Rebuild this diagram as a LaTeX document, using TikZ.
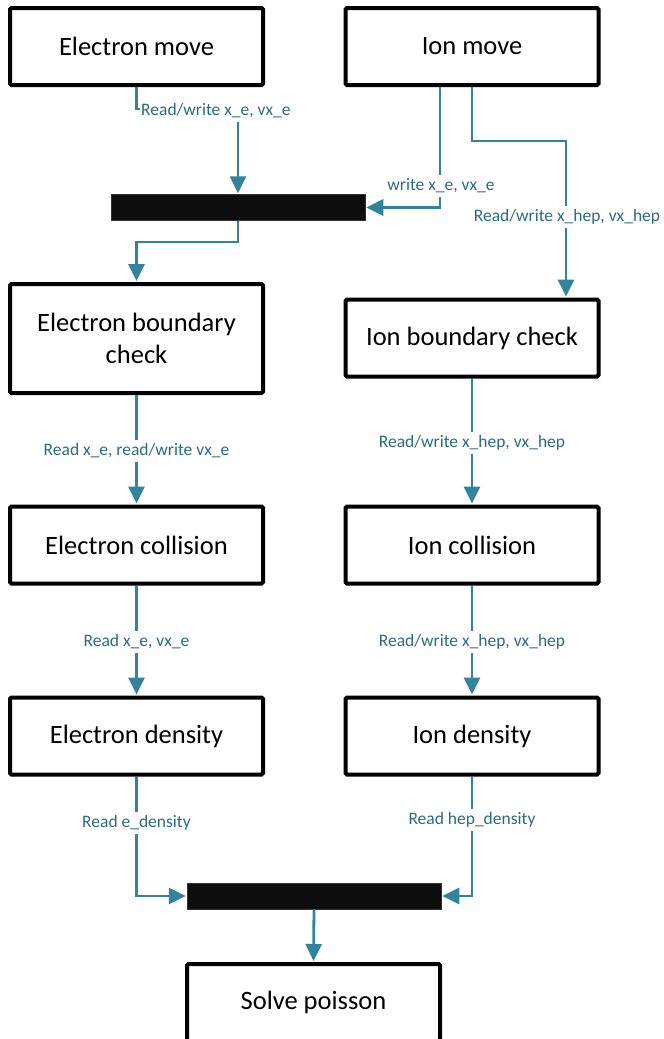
\documentclass[tikz,border=0pt]{standalone}
\usepackage{fontspec}
\setmainfont{Carlito}
\usetikzlibrary{arrows.meta,calc}
\definecolor{conncol}{RGB}{49,132,155}
\definecolor{lblcol}{RGB}{42,108,128}
\definecolor{barcol}{RGB}{13,13,13}
\tikzset{
  procbox/.style={draw=black, line width=4pt, rounded corners=1.5pt, fill=white,
    minimum width=253pt, minimum height=77pt, align=center, inner sep=0pt,
    font=\fontsize{26.5}{32}\selectfont},
  tallbox/.style={procbox, minimum height=109pt},
  syncbar/.style={fill=barcol, draw=black!80, line width=0.5pt, minimum width=254pt, minimum height=26pt, inner sep=0pt},
  conn/.style={draw=conncol, line width=2.8pt, -{Triangle[length=17pt,width=16pt]}, shorten >=1pt},
  lbl/.style={fill=white, text=lblcol, inner xsep=1pt, inner ysep=3pt, text height=12pt, text depth=4pt,
    font=\fontsize{17.5}{20}\selectfont}
}
\begin{document}
\begin{tikzpicture}[x=1pt,y=-1pt]
\useasboundingbox (0,0) rectangle (664,1039);
\clip (0,0) rectangle (664,1039);
\fill[white] (0,0) rectangle (664,1039);

% boxes
\node[procbox] (EM) at (136.5,46.5) {Electron move};
\node[procbox] (IM) at (472,46.5) {Ion move};
\node[syncbar] (B1) at (238,207.5) {};
\node[tallbox] (EBC) at (136.5,338.5) {Electron boundary\\check};
\node[procbox] (IBC) at (472,338) {Ion boundary check};
\node[procbox] (EC) at (136.5,545) {Electron collision};
\node[procbox] (IC) at (472,545) {Ion collision};
\node[procbox] (ED) at (136.5,736) {Electron density};
\node[procbox] (ID) at (472,736) {Ion density};
\node[syncbar] (B2) at (314,896) {};
\node[procbox] (SP) at (313.5,1002.5) {Solve poisson};

% junction coordinates
\coordinate (j1) at (238,109);
\coordinate (j2) at (566,141);
\coordinate (j3) at (136.5,242);

% connectors
\draw[conn] (EM.south) |- (j1) -- (B1.north);
\draw[conn] ([xshift=-32pt]IM.south) |- (B1.east);
\draw[conn] (IM.south) |- (j2) -- (j2 |- IBC.north);
\draw[conn] (B1.south) |- (j3) -- (EBC.north);
\draw[conn] (EBC.south) -- (EC.north);
\draw[conn] (IBC.south) -- (IC.north);
\draw[conn] (EC.south) -- (ED.north);
\draw[conn] (IC.south) -- (ID.north);
\draw[conn] (ED.south) |- (B2.west);
\draw[conn] (ID.south) |- (B2.east);
\draw[conn] (B2.south) -- (SP.north);

% labels
\node[lbl, anchor=west] (L1) at (140,111) {Read/write x\_e, vx\_e};
\node[lbl] (L2) at (441,186) {write x\_e, vx\_e};
\node[lbl] (L3) at (567,217) {Read/write x\_hep, vx\_hep};
\node[lbl] (L4) at (136.5,451) {Read x\_e, read/write vx\_e};
\node[lbl] (L5) at (472,443) {Read/write x\_hep, vx\_hep};
\node[lbl] (L6) at (136.5,642) {Read x\_e, vx\_e};
\node[lbl] (L7) at (472,642) {Read/write x\_hep, vx\_hep};
\node[lbl] (L8) at (136.5,823) {Read e\_density};
\node[lbl] (L9) at (472,820) {Read hep\_density};
\end{tikzpicture}
\end{document}
